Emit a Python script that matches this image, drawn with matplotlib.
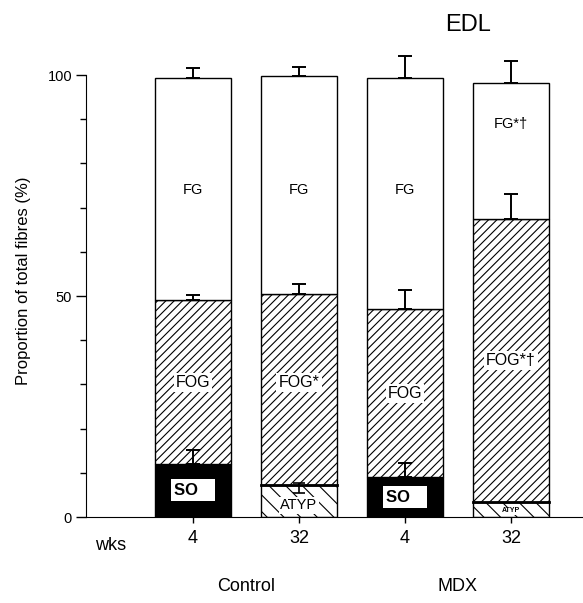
import numpy as np
import matplotlib
matplotlib.use("Agg")
import matplotlib.pyplot as plt

plt.rcParams['font.family'] = ['Liberation Sans', 'DejaVu Sans']
plt.rcParams['hatch.linewidth'] = 0.8

groups = ["Control", "MDX"]
weeks = ["4", "32", "4", "32"]

# segment heights (% of total fibres), stacked from bottom
so = [12.0, 0.0, 9.0, 0.0]
atyp = [0.0, 7.2, 0.0, 3.5]
fog = [37.1, 43.3, 38.0, 63.9]
fg = [50.2, 49.3, 52.3, 30.9]

# upper SEM at top of each segment
so_err = [3.2, 0.0, 3.3, 0.0]
atyp_err_lo = [0.0, 1.8, 0.0, 0.0]
atyp_err_hi = [0.0, 0.6, 0.0, 0.0]
fog_err = [1.2, 2.2, 4.4, 5.7]
fg_err = [2.2, 2.1, 5.0, 4.9]

fg_labels = ["FG", "FG", "FG", "FG*\u2020"]
fog_labels = ["FOG", "FOG*", "FOG", "FOG*\u2020"]

fig = plt.figure(figsize=(5.83, 6.03), dpi=100)
ax = fig.add_axes([0.1475, 0.1426, 0.8525, 0.7828])

x = np.arange(len(weeks))
w = 0.717
so = np.array(so)
atyp = np.array(atyp)
fog = np.array(fog)
fg = np.array(fg)
base_fog = so + atyp
base_fg = base_fog + fog
top = base_fg + fg

ax.bar(x, so, w, color="black", edgecolor="black", linewidth=1)
ax.bar(x, atyp, w, color="white", edgecolor="black", linewidth=1, hatch="\\\\")
ax.bar(x, fog, w, bottom=base_fog, color="white", edgecolor="black", linewidth=1, hatch="////")
ax.bar(x, fg, w, bottom=base_fg, color="white", edgecolor="black", linewidth=1)

# thicker boundary line above ATYP
for i in range(len(x)):
    if atyp[i] > 0:
        ax.plot([x[i] - w / 2, x[i] + w / 2], [atyp[i], atyp[i]], color="black", lw=2)


def upper_err(ys, errs):
    errs = np.array(errs)
    m = errs > 0
    ax.errorbar(x[m], np.array(ys)[m], yerr=[np.zeros(m.sum()), errs[m]], fmt="none",
                ecolor="black", elinewidth=1.4, capsize=5, capthick=1.4, zorder=4)


upper_err(so, so_err)
upper_err(base_fg, fog_err)
upper_err(top, fg_err)
m = np.array(atyp_err_hi) > 0
ax.errorbar(x[m], atyp[m], yerr=[np.array(atyp_err_lo)[m], np.array(atyp_err_hi)[m]],
            fmt="none", ecolor="black", elinewidth=1.2, capsize=4, capthick=1.2, zorder=4)

# segment labels
fg_y = [74, 74, 74, 89]
fog_y = [30.5, 30.5, 28, 35.5]
for i in range(len(x)):
    ax.text(x[i], fg_y[i], fg_labels[i], ha="center", va="center", fontsize=10.5)
    ax.text(x[i], fog_y[i], fog_labels[i], ha="center", va="center", fontsize=11.5,
            bbox=dict(fc="white", ec="none", pad=1.5), zorder=5)
    if so[i] > 0:
        ax.text(x[i], so[i] / 2, "SO   ", ha="center", va="center", fontsize=12,
                fontweight="bold", bbox=dict(fc="white", ec="none", pad=2.5), zorder=5)
ax.text(x[1], 2.7, "ATYP", ha="center", va="center", fontsize=10.5,
        bbox=dict(fc="white", ec="none", pad=1), zorder=5)
ax.text(x[3], 1.4, "ATYP", ha="center", va="center", fontsize=5, fontweight="bold",
        bbox=dict(fc="white", ec="none", pad=0.5), zorder=5)

ax.set_xlim(-1.01, 3.68)
ax.set_ylim(0, 106.8)
ax.spines["top"].set_visible(False)
ax.spines["right"].set_visible(False)
ax.spines["left"].set_bounds(0, 100)
ax.set_yticks([0, 50, 100])
ax.set_yticks(np.arange(0, 101, 10), minor=True)
ax.tick_params(axis="y", which="major", length=7, width=1, labelsize=10.5, pad=3)
ax.tick_params(axis="y", which="minor", length=4, width=1)
ax.set_xticks(x)
ax.set_xticklabels(weeks, fontsize=13)
ax.tick_params(axis="x", length=4, width=1, pad=5)
ax.set_ylabel("Proportion of total fibres (%)", fontsize=12, labelpad=12)

ax.text(-0.78, -4.5, "wks", ha="center", va="top", fontsize=13)
ax.text(0.5, -13.8, groups[0], ha="center", va="top", fontsize=13)
ax.text(2.5, -13.8, groups[1], ha="center", va="top", fontsize=13)
fig.text(0.803, 0.958, "EDL", ha="center", va="center", fontsize=17)

fig.savefig("out.png", dpi=100)
